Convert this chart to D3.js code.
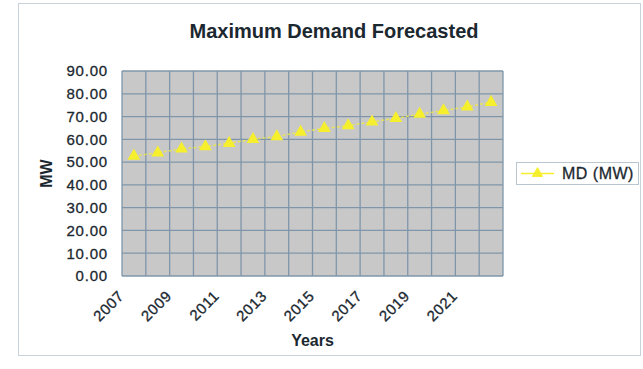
<!DOCTYPE html>
<html>
<head>
<meta charset="utf-8">
<script src="https://cdn.jsdelivr.net/npm/d3@7"></script>
<style>
  body { margin: 0; background: #fff; }
  svg { display: block; font-family: "Liberation Sans", Arial, sans-serif; }
</style>
</head>
<body>
<svg id="chart" width="643" height="369"></svg>
<script>
// Data.
var years = ['2007', '2008', '2009', '2010', '2011', '2012', '2013', '2014',
  '2015', '2016', '2017', '2018', '2019', '2020', '2021', '2022'];
var mdValues = [52.7, 54.1, 55.8, 56.8, 58.3, 60.0, 61.2, 63.2,
  64.8, 66.0, 67.7, 69.2, 71.1, 72.6, 74.3, 76.3];
var yTicks = [0, 10, 20, 30, 40, 50, 60, 70, 80, 90];
var xLabels = ['2007', '2009', '2011', '2013', '2015', '2017', '2019', '2021'];
var seriesName = 'MD (MW)';

var textColor = '#1b2830';
var gridColor = '#7f96aa';
var markColor = '#f6ef2e';

var svg = d3.select('#chart');

// Outer chart frame.
svg.append('rect')
  .attr('x', 18.5).attr('y', 3.5)
  .attr('width', 622).attr('height', 352)
  .style('fill', '#fff')
  .style('stroke', '#c9d2da');

var plot = { left: 122, top: 71, right: 503, bottom: 276 };

var x = d3.scaleBand()
  .domain(years)
  .range([plot.left, plot.right])
  .padding(0);

var y = d3.scaleLinear()
  .domain([0, 90])
  .range([plot.bottom, plot.top]);

// Plot background.
svg.append('rect')
  .attr('x', plot.left).attr('y', plot.top)
  .attr('width', plot.right - plot.left)
  .attr('height', plot.bottom - plot.top)
  .style('fill', '#c8c8c8');

// Vertical gridlines on band edges.
var edges = years.map(d => x(d)).concat([plot.right]);
svg.append('g').selectAll('line')
  .data(edges)
  .join('line')
  .attr('x1', d => d).attr('x2', d => d)
  .attr('y1', plot.top).attr('y2', plot.bottom)
  .style('stroke', gridColor)
  .style('stroke-width', 1.3);

// Horizontal gridlines.
svg.append('g').selectAll('line')
  .data(yTicks)
  .join('line')
  .attr('x1', plot.left).attr('x2', plot.right)
  .attr('y1', d => y(d)).attr('y2', d => y(d))
  .style('stroke', gridColor)
  .style('stroke-width', 1.3);

// Y axis labels.
var yAxis = d3.axisLeft(y)
  .tickValues(yTicks)
  .tickFormat(d3.format('.2f'))
  .tickSize(0)
  .tickPadding(14);

var gy = svg.append('g')
  .attr('transform', 'translate(' + plot.left + ',0)')
  .call(yAxis);
gy.select('.domain').remove();
gy.selectAll('text')
  .style('font-size', '15px')
  .style('letter-spacing', '0.8px')
  .style('fill', textColor)
  .style('stroke', textColor)
  .style('stroke-width', 0.3);

// X axis labels, rotated.
svg.append('g').selectAll('text')
  .data(xLabels)
  .join('text')
  .attr('transform', d => 'translate(' + (x(d) + x.bandwidth() / 2 - 9) + ',' + (plot.bottom + 21) + ') rotate(-45)')
  .style('text-anchor', 'end')
  .style('font-size', '15px')
  .style('letter-spacing', '0.6px')
  .style('fill', textColor)
  .style('stroke', textColor)
  .style('stroke-width', 0.3)
  .text(d => d);

// Series line and markers.
var line = d3.line()
  .x((d, i) => x(years[i]) + x.bandwidth() / 2)
  .y(d => y(d));

svg.append('path')
  .datum(mdValues)
  .attr('d', line)
  .style('fill', 'none')
  .style('stroke', markColor)
  .style('stroke-width', 1.5)
  .style('stroke-dasharray', '3,2')
  .style('opacity', 0.7);

var tri = d3.symbol().type(d3.symbolTriangle).size(45);
svg.append('g').selectAll('path')
  .data(mdValues)
  .join('path')
  .attr('d', tri)
  .attr('transform', (d, i) => 'translate(' + (x(years[i]) + x.bandwidth() / 2) + ',' + y(d) + ')')
  .style('fill', markColor)
  .style('stroke', markColor)
  .style('stroke-width', 1.5);

// Title.
svg.append('text')
  .attr('x', 334).attr('y', 38)
  .style('text-anchor', 'middle')
  .style('font-size', '20px')
  .style('font-weight', 'bold')
  .style('fill', textColor)
  .text('Maximum Demand Forecasted');

// Axis titles.
svg.append('text')
  .attr('x', (plot.left + plot.right) / 2).attr('y', 346)
  .style('text-anchor', 'middle')
  .style('font-size', '16px')
  .style('font-weight', 'bold')
  .style('fill', textColor)
  .text('Years');

svg.append('text')
  .attr('transform', 'translate(52,' + (plot.top + plot.bottom) / 2 + ') rotate(-90)')
  .style('text-anchor', 'middle')
  .style('font-size', '16px')
  .style('font-weight', 'bold')
  .style('fill', textColor)
  .text('MW');

// Legend.
var legend = svg.append('g').attr('transform', 'translate(516,162)');
legend.append('rect')
  .attr('x', 0.5).attr('y', 0.5)
  .attr('width', 122).attr('height', 22)
  .style('fill', '#fff')
  .style('stroke', '#b9c6d0');
legend.append('line')
  .attr('x1', 5).attr('x2', 38)
  .attr('y1', 11.5).attr('y2', 11.5)
  .style('stroke', markColor)
  .style('stroke-width', 1.5);
legend.append('path')
  .attr('d', tri)
  .attr('transform', 'translate(21.5,11.5)')
  .style('fill', markColor)
  .style('stroke', markColor);
legend.append('text')
  .attr('x', 46).attr('y', 17)
  .style('font-size', '16px')
  .style('letter-spacing', '0.5px')
  .style('fill', textColor)
  .style('stroke', textColor)
  .style('stroke-width', 0.3)
  .text(seriesName);
</script>
</body>
</html>
